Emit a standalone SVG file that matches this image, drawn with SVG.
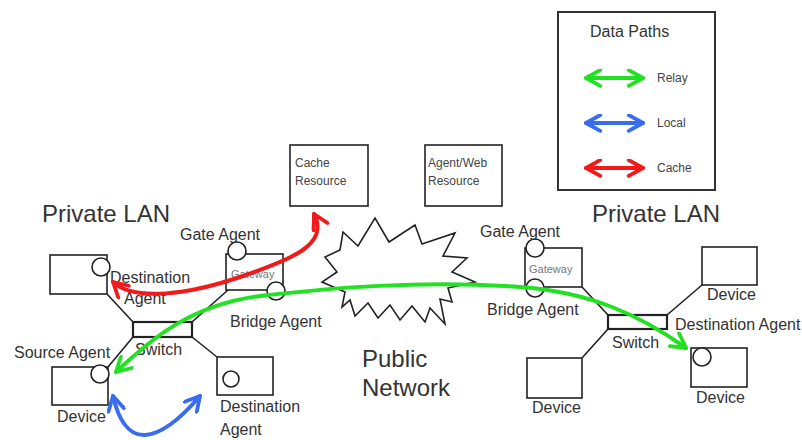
<svg xmlns="http://www.w3.org/2000/svg" width="802" height="440" viewBox="0 0 802 440">
  <style>
    text { font-family: "Liberation Sans", Arial, sans-serif; fill: #333; }
    .box { fill: #fff; stroke: #222; stroke-width: 1.6; }
    .sw { fill: #fff; stroke: #222; stroke-width: 2.2; }
    .agent { fill: #fff; stroke: #222; stroke-width: 1.6; }
    .link { stroke: #222; stroke-width: 1.6; fill: none; }
    .lbl { font-size: 16px; }
    .big { font-size: 24px; }
    .small { font-size: 12px; fill: #444; }
    .gw { font-size: 11px; fill: #777; }
    .path { fill: none; stroke-width: 4; stroke-linecap: round; }
    .relay { stroke: #22e022; }
    .local { stroke: #3a6cf0; }
    .cache { stroke: #f01a1a; }
  </style>
  <defs>
    <marker id="headG" viewBox="0 0 12 12" refX="10.5" refY="6" markerWidth="19" markerHeight="19" markerUnits="userSpaceOnUse" orient="auto-start-reverse">
      <path d="M1.5,1 L10.5,6 L1.5,11" fill="none" stroke="#22e022" stroke-width="2.4" stroke-linecap="round" stroke-linejoin="round"/>
    </marker>
    <marker id="headB" viewBox="0 0 12 12" refX="10.5" refY="6" markerWidth="19" markerHeight="19" markerUnits="userSpaceOnUse" orient="auto-start-reverse">
      <path d="M1.5,1 L10.5,6 L1.5,11" fill="none" stroke="#3a6cf0" stroke-width="2.4" stroke-linecap="round" stroke-linejoin="round"/>
    </marker>
    <marker id="headR" viewBox="0 0 12 12" refX="10.5" refY="6" markerWidth="19" markerHeight="19" markerUnits="userSpaceOnUse" orient="auto-start-reverse">
      <path d="M1.5,1 L10.5,6 L1.5,11" fill="none" stroke="#f01a1a" stroke-width="2.4" stroke-linecap="round" stroke-linejoin="round"/>
    </marker>
  </defs>

  <rect width="802" height="440" fill="#fff"/>

  <!-- network wiring -->
  <g id="connectors">
    <line class="link" x1="107" y1="294" x2="133" y2="322"/>
    <line class="link" x1="228" y1="290" x2="192" y2="322"/>
    <line class="link" x1="133" y1="337" x2="108" y2="367"/>
    <line class="link" x1="192" y1="337" x2="217" y2="357"/>
    <line class="link" x1="582" y1="287" x2="608" y2="315"/>
    <line class="link" x1="667" y1="315" x2="702" y2="285"/>
    <line class="link" x1="608" y1="329" x2="582" y2="358"/>
  </g>

  <!-- public network cloud -->
  <g id="public-network">
    <polygon points="343,232 358,246 375,218 389,242 415,225 422,244 455,233 443,256 467,258 452,272 475,282 448,288 452,302 440,299 445,324 430,308 425,322 412,306 400,320 390,305 378,318 368,303 355,316 350,300 342,307 345,292 322,282 337,272 325,257 340,250" fill="#fff" stroke="#222" stroke-width="1.6" stroke-linejoin="miter"/>
    <text class="big" x="362" y="367">Public</text>
    <text class="big" x="362" y="396">Network</text>
  </g>

  <!-- resources -->
  <g id="cache-resource">
    <rect class="box" x="290" y="145" width="78" height="61"/>
    <text class="small" x="295" y="167">Cache</text>
    <text class="small" x="295" y="185">Resource</text>
  </g>
  <g id="web-resource">
    <rect class="box" x="425" y="145" width="77" height="61"/>
    <text class="small" x="428" y="167">Agent/Web</text>
    <text class="small" x="428" y="185">Resource</text>
  </g>

  <!-- left private LAN -->
  <text class="big" x="42" y="222">Private LAN</text>
  <g id="left-dest-device">
    <rect class="box" x="50" y="255" width="57" height="39"/>
    <circle class="agent" cx="101" cy="267" r="9"/>
    <text class="lbl" x="110" y="283">Destination</text>
    <text class="lbl" x="124" y="304">Agent</text>
  </g>
  <g id="left-gateway">
    <rect class="box" x="226" y="254" width="57" height="36"/>
    <text class="gw" x="231" y="278">Gateway</text>
    <circle class="agent" cx="237" cy="251" r="9"/>
    <circle class="agent" cx="276" cy="291" r="9"/>
    <text class="lbl" x="180" y="240">Gate Agent</text>
    <text class="lbl" x="230" y="327">Bridge Agent</text>
  </g>
  <g id="left-switch">
    <rect class="sw" x="133" y="322" width="59" height="15"/>
    <text class="lbl" x="135" y="355">Switch</text>
  </g>
  <g id="left-source-device">
    <rect class="box" x="52" y="367" width="56" height="38"/>
    <circle class="agent" cx="100" cy="374" r="9"/>
    <text class="lbl" x="14" y="358">Source Agent</text>
    <text class="lbl" x="57" y="422">Device</text>
  </g>
  <g id="left-dest-device-2">
    <rect class="box" x="217" y="357" width="56" height="38"/>
    <circle class="agent" cx="231" cy="379" r="8"/>
    <text class="lbl" x="220" y="412">Destination</text>
    <text class="lbl" x="220" y="435">Agent</text>
  </g>

  <!-- right private LAN -->
  <text class="big" x="592" y="222">Private LAN</text>
  <g id="right-gateway">
    <rect class="box" x="525" y="248" width="57" height="39"/>
    <text class="gw" x="529" y="273">Gateway</text>
    <circle class="agent" cx="535" cy="248" r="9"/>
    <circle class="agent" cx="535" cy="288" r="9"/>
    <text class="lbl" x="480" y="237">Gate Agent</text>
    <text class="lbl" x="487" y="315">Bridge Agent</text>
  </g>
  <g id="right-switch">
    <rect class="sw" x="608" y="315" width="59" height="14"/>
    <text class="lbl" x="612" y="348">Switch</text>
  </g>
  <g id="right-device-top">
    <rect class="box" x="702" y="247" width="55" height="38"/>
    <text class="lbl" x="707" y="300">Device</text>
  </g>
  <g id="right-device-left">
    <rect class="box" x="527" y="358" width="55" height="40"/>
    <text class="lbl" x="532" y="413">Device</text>
  </g>
  <g id="right-dest-device">
    <rect class="box" x="691" y="348" width="56" height="39"/>
    <circle class="agent" cx="702" cy="357" r="9"/>
    <text class="lbl" x="675" y="330">Destination Agent</text>
    <text class="lbl" x="696" y="403">Device</text>
  </g>

  <!-- data paths -->
  <g id="data-paths">
    <path class="path cache" d="M113,282 C135,302 190,294 240,277 C290,260 330,245 314,214" marker-start="url(#headR)" marker-end="url(#headR)"/>
    <path class="path relay" d="M116,372 C150,340 190,305 260,296 C330,288 420,280 520,287 C590,292 640,315 686,348" marker-start="url(#headG)" marker-end="url(#headG)"/>
    <path class="path local" d="M113,396 C118,418 128,436 145,435 C165,434 188,410 200,396" marker-start="url(#headB)" marker-end="url(#headB)"/>
  </g>

  <!-- legend -->
  <g id="legend">
    <rect x="558" y="12" width="157" height="178" fill="#fff" stroke="#333" stroke-width="2"/>
    <text class="lbl" x="590" y="37">Data Paths</text>
    <line class="path relay" x1="586" y1="78" x2="643" y2="78" marker-start="url(#headG)" marker-end="url(#headG)"/>
    <text class="small" x="657" y="82">Relay</text>
    <line class="path local" x1="586" y1="123" x2="643" y2="123" marker-start="url(#headB)" marker-end="url(#headB)"/>
    <text class="small" x="657" y="127">Local</text>
    <line class="path cache" x1="586" y1="168" x2="643" y2="168" marker-start="url(#headR)" marker-end="url(#headR)"/>
    <text class="small" x="657" y="172">Cache</text>
  </g>
</svg>
